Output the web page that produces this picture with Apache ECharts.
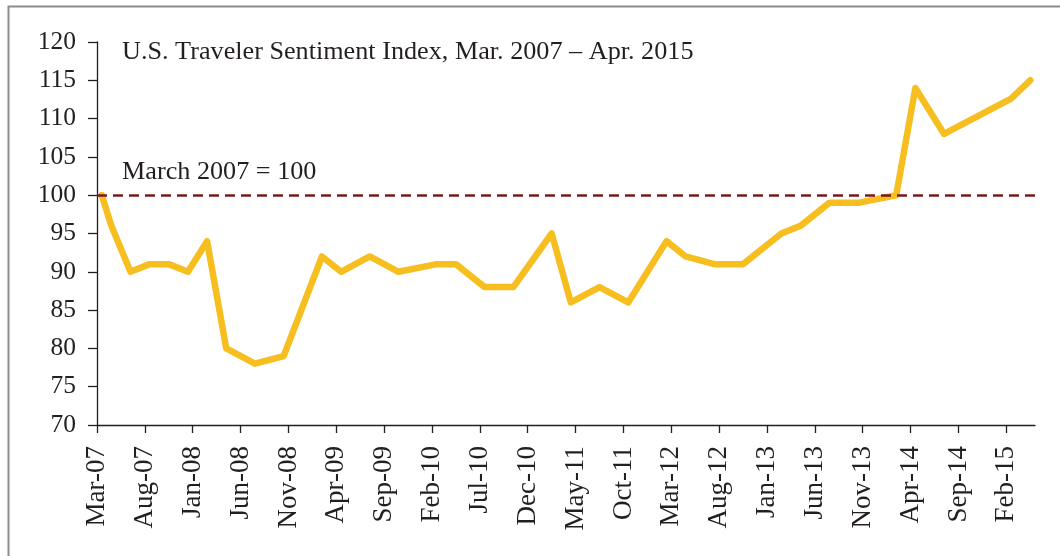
<!DOCTYPE html>
<html>
<head>
<meta charset="utf-8">
<script src="https://cdn.jsdelivr.net/npm/echarts@6/dist/echarts.min.js"></script>
<style>
  html, body { margin: 0; padding: 0; background: #fff; }
  #chartmain { width: 1060px; height: 556px; }
</style>
</head>
<body>
<div id="chartmain"></div>
<script>
// survey months and index values (March 2007 = 100)
var months = ['Mar-07', 'Apr-07', 'Jun-07', 'Aug-07', 'Oct-07', 'Dec-07', 'Feb-08', 'Apr-08',
	'Jul-08', 'Oct-08', 'Feb-09', 'Apr-09', 'Jul-09', 'Oct-09', 'Feb-10', 'Apr-10',
	'Jul-10', 'Oct-10', 'Feb-11', 'Apr-11', 'Jul-11', 'Oct-11', 'Feb-12', 'Apr-12',
	'Jul-12', 'Oct-12', 'Feb-13', 'Apr-13', 'Jul-13', 'Oct-13', 'Feb-14', 'Apr-14',
	'Jul-14', 'Feb-15', 'Apr-15'];
var sentiment = [100, 96, 90, 91, 91, 90, 94, 80,
	78, 79, 92, 90, 92, 90, 91, 91,
	88, 88, 95, 86, 88, 86, 94, 92,
	91, 91, 95, 96, 99, 99, 100, 114,
	108, 112.6, 115];
var tickLabels = ['Mar-07', 'Aug-07', 'Jan-08', 'Jun-08', 'Nov-08', 'Apr-09', 'Sep-09', 'Feb-10',
	'Jul-10', 'Dec-10', 'May-11', 'Oct-11', 'Mar-12', 'Aug-12', 'Jan-13', 'Jun-13',
	'Nov-13', 'Apr-14', 'Sep-14', 'Feb-15'];
var baseLine = 100;

var monNames = ['Jan', 'Feb', 'Mar', 'Apr', 'May', 'Jun', 'Jul', 'Aug', 'Sep', 'Oct', 'Nov', 'Dec'];
// months since Mar-07
function monthIndex(s) {
	var p = s.split('-');
	return (parseInt(p[1], 10) - 7) * 12 + monNames.indexOf(p[0]) - 2;
}

var points = months.map(function(m, i) {
	// each value sits in the middle of its month slot
	return [monthIndex(m) + 0.5, sentiment[i]];
});
var tickValues = tickLabels.map(monthIndex);

var font = 'Liberation Serif';
var textColor = '#231f20';

var option = {
	animation: false,
	grid: {
		left: 97,
		top: 42,
		width: 938,
		height: 383
	},
	graphic: [{
		type: 'rect',
		left: 6,
		top: 4,
		shape: { width: 1100, height: 600 },
		style: { fill: 'none', stroke: '#8c8c8c', lineWidth: 2 },
		silent: true
	}],
	xAxis: {
		type: 'value',
		min: 0,
		max: 98,
		splitLine: { show: false },
		axisLine: { lineStyle: { color: '#231f20', width: 1.3 } },
		axisTick: {
			length: 8,
			customValues: tickValues,
			lineStyle: { color: '#231f20', width: 1.3 }
		},
		axisLabel: {
			customValues: tickValues,
			rotate: 90,
			margin: 21,
			fontFamily: font,
			fontSize: 27,
			color: textColor,
			formatter: function(v) {
				return tickLabels[tickValues.indexOf(v)];
			}
		}
	},
	yAxis: {
		type: 'value',
		min: 70,
		max: 120,
		interval: 5,
		splitLine: { show: false },
		axisLine: { show: true, lineStyle: { color: '#231f20', width: 1.3 } },
		axisTick: { show: true, length: 9, lineStyle: { color: '#231f20', width: 1.3 } },
		axisLabel: {
			margin: 21,
			fontFamily: font,
			fontSize: 25.5,
			color: textColor
		}
	},
	series: [{
		name: 'U.S. Traveler Sentiment Index',
		type: 'line',
		data: points,
		showSymbol: false,
		lineStyle: { color: '#f6be1f', width: 6.5, cap: 'round', join: 'round' },
		z: 3,
		markLine: {
			silent: true,
			symbol: ['none', 'none'],
			label: { show: false },
			lineStyle: { color: '#7a1a1c', width: 2.5, type: [10, 6] },
			data: [{ yAxis: baseLine }]
		}
	}],
	title: [{
		text: 'U.S. Traveler Sentiment Index, Mar. 2007 \u2013 Apr. 2015',
		left: 117,
		top: 34,
		textStyle: { fontFamily: font, fontSize: 26.2, fontWeight: 'normal', color: textColor }
	}, {
		text: 'March 2007 = 100',
		left: 117,
		top: 154,
		textStyle: { fontFamily: font, fontSize: 26.2, fontWeight: 'normal', color: textColor }
	}]
};

var myChart = echarts.init(document.getElementById('chartmain'));
myChart.setOption(option);
</script>
</body>
</html>
